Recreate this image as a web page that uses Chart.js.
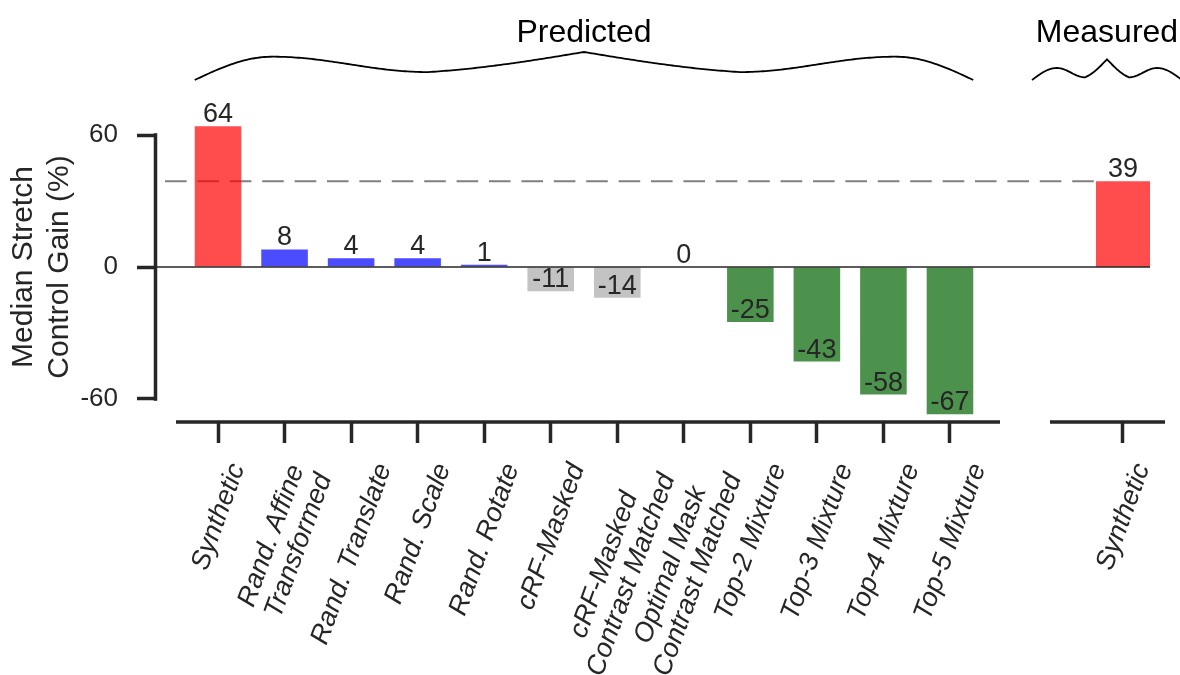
<!DOCTYPE html>
<html>
<head>
<meta charset="utf-8">
<title>Median Stretch Control Gain</title>
<script src="https://cdn.jsdelivr.net/npm/chart.js@4.4.1/dist/chart.umd.min.js"></script>
<style>
  html, body { margin: 0; padding: 0; background: #fff; }
  #wrap { position: relative; width: 1180px; height: 675px; overflow: hidden; background: #fff; }
  #predicted { position: absolute; left: 0; top: 0; }
  #measured { position: absolute; left: 1000px; top: 0; }
</style>
</head>
<body>
<div id="wrap">
  <canvas id="predicted" width="1000" height="675"></canvas>
  <canvas id="measured" width="180" height="675"></canvas>
</div>
<script>
// ---- data ----
const predictedLabels = [
  ['Synthetic'],
  ['Rand. Affine', 'Transformed'],
  ['Rand. Translate'],
  ['Rand. Scale'],
  ['Rand. Rotate'],
  ['cRF-Masked'],
  ['cRF-Masked', 'Contrast Matched'],
  ['Optimal Mask', 'Contrast Matched'],
  ['Top-2 Mixture'],
  ['Top-3 Mixture'],
  ['Top-4 Mixture'],
  ['Top-5 Mixture']
];
const predictedGain = [64, 8, 4, 4, 1, -11, -14, 0, -25, -43, -58, -67];
const predictedGroups = ['synthetic', 'transform', 'transform', 'transform', 'transform',
                         'masked', 'masked', 'masked', 'mixture', 'mixture', 'mixture', 'mixture'];

const measuredLabels = [['Synthetic']];
const measuredGain = [39];
const measuredGroups = ['synthetic'];

const gainTicks = [-60, 0, 60];
const sectionTitles = ['Predicted', 'Measured'];
const yTitle = ['Median Stretch', 'Control Gain (%)'];

// ---- styling / layout ----
const FONT = '"Liberation Sans", Arial, sans-serif';
const INK = '#262626';
const GROUP_COLORS = {
  synthetic: 'rgba(255, 0, 0, 0.7)',
  transform: 'rgba(0, 0, 255, 0.7)',
  masked: 'rgba(169, 169, 169, 0.7)',
  mixture: 'rgba(0, 100, 0, 0.7)'
};
const Y_MIN = -70.5, Y_MAX = 70.5;
const PLOT_TOP = 112;
const AXIS_BAND = 253;      // space under the plot for tick marks and labels
const SPLIT_X = 1000;       // page x where the measured panel starts
const SPINE_W = 3.5;
const TICK_FONT = 26;
const XLABEL_FONT = 27;
const XLABEL_PITCH = 29;
const VALUE_FONT = 27;
const LABEL_ANGLE = 70 * Math.PI / 180;
const LABEL_GAP = 38;       // plot bottom to top of the rotated labels
const DASH_INSET = 8;
const DASH = [21.6, 10.8];
const BRACE_Y = 80;
const TITLE_BASELINE = 42;

Chart.defaults.font.family = FONT;

const PREDICTED_BRACE = { crestU: 0.2, crestDy: -23.3, troughU: 0.6, troughDy: -7.9, peakDy: -28 };
const MEASURED_BRACE = { crestU: 0.333, crestDy: -12, troughU: 0.707, troughDy: -2.7, peakDy: -20.7 };

// ---- drawing helpers ----
function drawRotatedLabel(ctx, lines, cx, top) {
  ctx.save();
  ctx.font = `italic ${XLABEL_FONT}px ${FONT}`;
  const asc = XLABEL_FONT * 0.8;
  const W = Math.max(...lines.map(l => ctx.measureText(l).width));
  const H = (lines.length - 1) * XLABEL_PITCH + XLABEL_FONT;
  const c = Math.cos(LABEL_ANGLE), s = Math.sin(LABEL_ANGLE);
  // centre the rotated block's bounding box under the tick
  ctx.translate(cx - (W * c + H * s) / 2, top + W * s);
  ctx.rotate(-LABEL_ANGLE);
  ctx.fillStyle = INK;
  ctx.textAlign = 'center';
  ctx.textBaseline = 'alphabetic';
  lines.forEach((l, i) => ctx.fillText(l, W / 2, i * XLABEL_PITCH + asc));
  ctx.restore();
}

function braceOffset(u, p) {
  if (u <= p.crestU) {
    return p.crestDy * Math.sin(Math.PI / 2 * (u / p.crestU));
  }
  if (u <= p.troughU) {
    const t = (u - p.crestU) / (p.troughU - p.crestU);
    return p.crestDy + (p.troughDy - p.crestDy) * (1 - Math.cos(Math.PI * t)) / 2;
  }
  const t = (u - p.troughU) / (1 - p.troughU);
  const k = 0.5 * t + 0.5 * (1 - Math.cos(Math.PI / 2 * t));
  return p.troughDy + (p.peakDy - p.troughDy) * k;
}

function drawBrace(ctx, x0, x1, p, title) {
  const N = 150;
  ctx.save();
  ctx.beginPath();
  for (let i = 0; i <= 2 * N; i++) {
    const u = i <= N ? i / N : (2 * N - i) / N;
    const x = x0 + (i / (2 * N)) * (x1 - x0);
    const y = BRACE_Y + braceOffset(u, p);
    if (i === 0) ctx.moveTo(x, y); else ctx.lineTo(x, y);
  }
  ctx.strokeStyle = '#000';
  ctx.lineWidth = 1.8;
  ctx.stroke();
  ctx.font = `32px ${FONT}`;
  ctx.fillStyle = '#000';
  ctx.textAlign = 'center';
  ctx.textBaseline = 'alphabetic';
  ctx.fillText(title, (x0 + x1) / 2, TITLE_BASELINE);
  ctx.restore();
}

function drawDashed(ctx, xa, xb, y, phase) {
  ctx.save();
  ctx.strokeStyle = '#808080';
  ctx.lineWidth = 2;
  ctx.setLineDash(DASH);
  ctx.lineDashOffset = phase;
  ctx.beginPath();
  ctx.moveTo(xa, y);
  ctx.lineTo(xb, y);
  ctx.stroke();
  ctx.restore();
}

function drawZeroLine(ctx, xa, xb, y) {
  ctx.save();
  ctx.strokeStyle = INK;
  ctx.lineWidth = 1.3;
  ctx.beginPath();
  ctx.moveTo(xa, y);
  ctx.lineTo(xb, y);
  ctx.stroke();
  ctx.restore();
}

function drawBarValues(chart, values) {
  const ctx = chart.ctx;
  const bars = chart.getDatasetMeta(0).data;
  ctx.save();
  ctx.font = `${VALUE_FONT}px ${FONT}`;
  ctx.fillStyle = INK;
  ctx.textAlign = 'center';
  ctx.textBaseline = 'alphabetic';
  bars.forEach((bar, i) => ctx.fillText(String(values[i]), bar.x, bar.y - 4));
  ctx.restore();
}

function drawLine(ctx, x1, y1, x2, y2) {
  ctx.save();
  ctx.strokeStyle = INK;
  ctx.lineWidth = SPINE_W;
  ctx.lineCap = 'butt';
  ctx.beginPath();
  ctx.moveTo(x1, y1);
  ctx.lineTo(x2, y2);
  ctx.stroke();
  ctx.restore();
}

function xScaleOptions(min, max, count) {
  return {
    type: 'linear', min, max, offset: false,
    grid: { display: true, offset: false, drawOnChartArea: false, drawTicks: true,
            tickLength: 21, tickWidth: SPINE_W, tickColor: INK },
    border: { display: false },
    ticks: { display: false, autoSkip: false },
    afterBuildTicks: s => { s.ticks = Array.from({ length: count }, (_, i) => ({ value: i })); },
    afterFit: s => { s.height = AXIS_BAND; }
  };
}

// ---- predicted panel ----
const predictedPanel = {
  id: 'predictedPanel',
  beforeDatasetsDraw(chart) {
    const { ctx, chartArea, scales: { y } } = chart;
    drawDashed(ctx, chartArea.left + DASH_INSET, chart.width, y.getPixelForValue(measuredGain[0]), 0);
  },
  afterDatasetsDraw(chart) {
    const { ctx, chartArea, scales: { y } } = chart;
    drawZeroLine(ctx, chartArea.left, chart.width, y.getPixelForValue(0));
    drawBarValues(chart, predictedGain);
  },
  afterDraw(chart) {
    const { ctx, chartArea, scales: { x, y } } = chart;
    const yTop = y.getPixelForValue(gainTicks[gainTicks.length - 1]);
    const yBot = y.getPixelForValue(gainTicks[0]);
    drawLine(ctx, chartArea.left - 1.5, yTop - SPINE_W / 2, chartArea.left - 1.5, yBot + SPINE_W / 2);
    drawLine(ctx, chartArea.left + 19, chartArea.bottom, chartArea.right, chartArea.bottom);
    predictedLabels.forEach((lines, i) =>
      drawRotatedLabel(ctx, lines, x.getPixelForValue(i), chartArea.bottom + LABEL_GAP));
    const bars = chart.getDatasetMeta(0).data;
    const first = bars[0], last = bars[bars.length - 1];
    drawBrace(ctx, first.x - first.width / 2, last.x + last.width / 2, PREDICTED_BRACE, sectionTitles[0]);
  }
};

const predictedChart = new Chart(document.getElementById('predicted'), {
  type: 'bar',
  data: {
    datasets: [{
      data: predictedGain.map((v, i) => ({ x: i, y: v })),
      backgroundColor: predictedGroups.map(g => GROUP_COLORS[g]),
      borderWidth: 0,
      barPercentage: 0.7,
      categoryPercentage: 1.0
    }]
  },
  options: {
    responsive: false,
    animation: false,
    devicePixelRatio: 1,
    layout: { padding: { top: PLOT_TOP, left: 0, right: 0, bottom: 0 } },
    plugins: { legend: { display: false }, tooltip: { enabled: false } },
    scales: {
      x: xScaleOptions(-0.917, 11.752, predictedGain.length),
      y: {
        min: Y_MIN, max: Y_MAX,
        grid: { drawOnChartArea: false, drawTicks: true, tickLength: 20, tickWidth: SPINE_W, tickColor: INK },
        border: { display: false },
        ticks: { color: INK, font: { family: FONT, size: TICK_FONT }, padding: 19 },
        afterBuildTicks: s => { s.ticks = gainTicks.map(v => ({ value: v })); },
        afterFit: s => { s.width = 157; },
        title: { display: true, text: yTitle, color: INK,
                 font: { family: FONT, size: 30 }, padding: { top: 6, bottom: 0 } }
      }
    }
  },
  plugins: [predictedPanel]
});

// the dashes continue across the panel gap in phase
const dashPhase = SPLIT_X - (predictedChart.chartArea.left + DASH_INSET);

// ---- measured panel ----
const measuredPanel = {
  id: 'measuredPanel',
  beforeDatasetsDraw(chart) {
    const { ctx, scales: { y } } = chart;
    const bar = chart.getDatasetMeta(0).data[0];
    drawDashed(ctx, 0, bar.x - bar.width / 2, y.getPixelForValue(measuredGain[0]), dashPhase);
  },
  afterDatasetsDraw(chart) {
    const { ctx, scales: { y } } = chart;
    const bar = chart.getDatasetMeta(0).data[0];
    drawZeroLine(ctx, 0, bar.x + bar.width / 2, y.getPixelForValue(0));
    drawBarValues(chart, measuredGain);
  },
  afterDraw(chart) {
    const { ctx, chartArea, scales: { x } } = chart;
    drawLine(ctx, chartArea.left, chartArea.bottom, chartArea.right, chartArea.bottom);
    measuredLabels.forEach((lines, i) =>
      drawRotatedLabel(ctx, lines, x.getPixelForValue(i), chartArea.bottom + LABEL_GAP));
    drawBrace(ctx, chartArea.left - 18, chartArea.right + 17, MEASURED_BRACE, sectionTitles[1]);
  }
};

new Chart(document.getElementById('measured'), {
  type: 'bar',
  data: {
    datasets: [{
      data: measuredGain.map((v, i) => ({ x: i, y: v })),
      backgroundColor: measuredGroups.map(g => GROUP_COLORS[g]),
      borderWidth: 0,
      barPercentage: 0.47,
      categoryPercentage: 1.0
    }]
  },
  options: {
    responsive: false,
    animation: false,
    devicePixelRatio: 1,
    layout: { padding: { top: PLOT_TOP, left: 50, right: 15, bottom: 0 } },
    plugins: { legend: { display: false }, tooltip: { enabled: false } },
    scales: {
      x: xScaleOptions(-1.081, 0.622, measuredGain.length),
      y: { display: false, min: Y_MIN, max: Y_MAX }
    }
  },
  plugins: [measuredPanel]
});
</script>
</body>
</html>
